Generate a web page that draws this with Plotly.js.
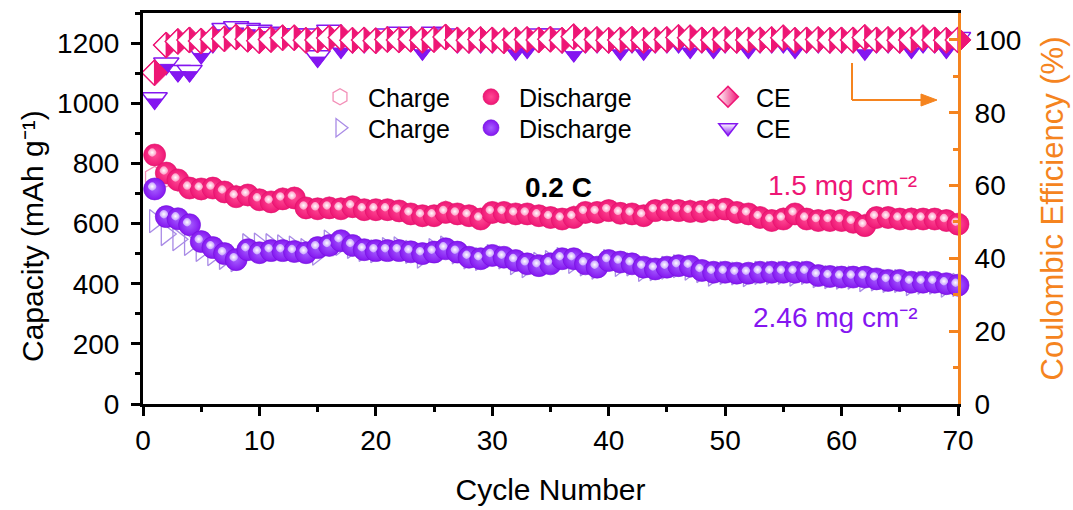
<!DOCTYPE html>
<html>
<head>
<meta charset="utf-8">
<script src="https://cdn.plot.ly/plotly-3.0.1.min.js"></script>
<style>html,body{margin:0;padding:0;background:#fff;}#chart{width:1073px;height:510px;}</style>
</head>
<body>
<div id="chart"></div>
<script>
// ---- data ----
const cycles = [1,2,3,4,5,6,7,8,9,10,11,12,13,14,15,16,17,18,19,20,21,22,23,24,25,26,27,28,29,30,31,32,33,34,35,36,37,38,39,40,41,42,43,44,45,46,47,48,49,50,51,52,53,54,55,56,57,58,59,60,61,62,63,64,65,66,67,68,69,70];

// 1.5 mg cm-2 electrode (pink)
const pinkCharge = [755,757,742,718,714,718,705,692,694,679,672,683,686,651,649,653,650,655,646,645,646,642,632,625,626,640,632,626,615,637,636,632,632,626,620,615,623,637,637,643,634,632,626,643,645,643,643,640,645,648,637,632,620,610,617,632,615,610,610,610,604,596,620,620,615,617,615,615,610,598];
const pinkDischarge = [828,768,745,718,715,718,705,689,695,679,672,682,685,652,649,652,649,656,646,646,646,642,632,626,626,637,632,626,615,637,637,632,632,626,620,615,620,637,637,643,634,632,626,643,645,643,640,640,645,648,637,632,620,610,615,632,615,610,610,610,604,593,620,620,615,615,615,615,610,598];
const pinkCE = [91,98.6,99.6,100,99.7,100.2,100.3,100.8,100.2,99.8,100.1,100.6,100.6,99.9,100,100.5,100.7,99.9,100,99.8,100.1,100,100.2,99.9,100.1,100.8,100,99.9,100.1,100,99.8,100,100.1,100,100.2,99.9,100.9,100,100.1,99.9,100,100.2,99.9,100,100.1,100.7,100.6,100,100,100.1,99.9,100,100,100.1,100.6,99.9,100,100.1,99.9,100,100,100.7,100,100.1,99.9,100,100.6,100,99.9,100];

// 2.46 mg cm-2 electrode (purple)
const purpleCharge = [608,565,548,532,512,498,486,478,528,530,528,524,520,512,500,540,532,522,512,508,515,518,506,490,512,520,504,487,482,492,487,468,458,466,472,482,472,464,453,475,462,464,446,448,453,458,450,442,430,436,434,428,436,436,436,430,436,425,422,420,420,412,414,409,409,398,403,403,393,396];
const purpleDischarge = [715,623,616,596,540,520,500,480,513,503,510,510,507,503,520,527,543,527,513,510,510,510,506,500,505,516,505,488,483,494,488,477,466,460,466,483,483,466,455,477,472,466,455,449,455,460,458,444,438,438,435,435,438,438,438,438,438,427,424,422,422,422,416,411,411,405,405,405,400,395];
const purpleCE = [84,93.5,91.5,91.5,96.5,99.5,103,103.5,103,102.5,102,101.5,101.5,101.5,95.5,102.5,98,99.5,99.5,99.5,101.5,102,100,97.5,102,101.5,99.5,99.5,99.5,99.5,99.5,97.5,98,101.5,101.5,99.5,97,99.5,99.5,99.5,97.5,99.5,97.5,99.5,99.5,99.5,98,99.5,98,99.5,99.5,98,99.5,99.5,99.5,98,99.5,99.5,99.5,99.5,99.5,97.5,99.5,99.5,99.5,98,99.5,99.5,98,100.5];

const xTickVals = [0,10,20,30,40,50,60,70];
const yLeftTickVals = [0,200,400,600,800,1000,1200];
const yRightTickVals = [0,20,40,60,80,100];

// ---- styling ----
const FONT = 'Liberation Sans, Arial, Helvetica, sans-serif';
const PINK = '#ee1675', PINK_LIGHT = '#f390b8';
const PURPLE = '#8416f0', LAVENDER = '#a98be6';
const ORANGE = '#f5841f';
const W = 1073, H = 510, ML = 143, MR = 115, MT = 13, MB = 106;
const PW = W - ML - MR, PH = H - MT - MB;
const XMAX = 70;
const px = x => (x - ML) / PW;
const py = y => (H - MB - y) / PH;

const DIA = 20;                       // CE diamond size
const halfShift = 0.424 * (DIA / 2) / (PW / XMAX); // centre offset of the half-diamond, in cycles
const TRI = 22;                       // purple CE triangle size
const TRI_K = 0.62;

const common = {cliponaxis: false, mode: 'markers', hoverinfo: 'x+y'};

const traces = [
  Object.assign({}, common, {
    name: 'Charge', x: cycles, y: pinkCharge, legend: 'legend',
    marker: {symbol: 'hexagon-open', size: 21, color: PINK_LIGHT, line: {color: PINK_LIGHT, width: 1.3}}
  }),
  Object.assign({}, common, {
    name: 'Discharge', x: cycles, y: pinkDischarge, legend: 'legend2',
    marker: {symbol: 'circle', size: 22, color: PINK, gradient: {type: 'radial', color: '#ff4b95'}, line: {color: '#e0106a', width: 0.6}}
  }),
  Object.assign({}, common, {
    name: 'Discharge highlight', x: cycles, y: pinkDischarge, showlegend: false,
    marker: {symbol: 'circle', size: 8, color: '#ff9cc6', angle: 135, standoff: 3.5, gradient: {type: 'radial', color: '#ffffff'}, line: {width: 0}}
  }),
  Object.assign({}, common, {
    name: 'Charge', x: cycles, y: purpleCharge, legend: 'legend4',
    marker: {symbol: 'triangle-right-open', size: 20, color: LAVENDER, line: {color: LAVENDER, width: 1.3}}
  }),
  Object.assign({}, common, {
    name: 'Discharge', x: cycles, y: purpleDischarge, legend: 'legend5',
    marker: {symbol: 'circle', size: 22, color: PURPLE, gradient: {type: 'radial', color: '#a660ff'}, line: {color: '#7410dc', width: 0.6}}
  }),
  Object.assign({}, common, {
    name: 'Discharge highlight', x: cycles, y: purpleDischarge, showlegend: false,
    marker: {symbol: 'circle', size: 8, color: '#c9a3ff', angle: 135, standoff: 3.5, gradient: {type: 'radial', color: '#ffffff'}, line: {width: 0}}
  }),
  // purple CE: white triangle with purple outline, lower part filled
  Object.assign({}, common, {
    name: 'CE', x: cycles, y: purpleCE, yaxis: 'y2', showlegend: false,
    marker: {symbol: 'triangle-down', size: TRI, color: '#ffffff', line: {color: PURPLE, width: 1.5}}
  }),
  Object.assign({}, common, {
    name: 'CE', x: cycles, y: purpleCE, yaxis: 'y2', showlegend: false,
    marker: {symbol: 'triangle-down', size: TRI * TRI_K, standoff: (TRI / 2) * (1 - TRI_K), color: PURPLE, line: {color: PURPLE, width: 1}}
  }),
  // pink CE: diamond, left half white
  Object.assign({}, common, {
    name: 'CE', x: cycles, y: pinkCE, yaxis: 'y2', showlegend: false,
    marker: {symbol: 'diamond', size: DIA, color: PINK, line: {color: PINK, width: 1}}
  }),
  Object.assign({}, common, {
    name: 'CE', x: cycles, y: pinkCE, xaxis: 'x3', yaxis: 'y2', showlegend: false,
    marker: {symbol: 'triangle-sw', angle: 45, size: DIA, color: '#ffffff', line: {color: PINK, width: 1.4}}
  }),
  // legend entries for the two CE series (half-filled symbols)
  Object.assign({}, common, {
    name: 'CE', x: [null], y: [null], yaxis: 'y2', legend: 'legend3', hoverinfo: 'skip',
    marker: {symbol: 'diamond', size: 16, color: '#ffffff', gradient: {type: 'horizontal', color: PINK}, line: {color: PINK, width: 1.5}}
  }),
  Object.assign({}, common, {
    name: 'CE', x: [null], y: [null], yaxis: 'y2', legend: 'legend6', hoverinfo: 'skip',
    marker: {symbol: 'triangle-down', size: 16, color: '#ffffff', gradient: {type: 'vertical', color: PURPLE}, line: {color: PURPLE, width: 1.5}}
  })
];

function leg(xp, yp) {
  return {x: px(xp), y: py(yp), xanchor: 'left', yanchor: 'top', bgcolor: 'rgba(0,0,0,0)',
          borderwidth: 0, itemwidth: 46, font: {family: FONT, size: 25, color: '#000'}, tracegroupgap: 0};
}
const col1 = 312, col2 = 463, col3 = 700, row1 = 74, row2 = 105;

const ah = {tipX: 937, baseX: 921, y: 100, half: 6};
const arrowPath = 'M ' + px(ah.tipX) + ',' + py(ah.y) + ' L ' + px(ah.baseX) + ',' + py(ah.y - ah.half) +
                  ' L ' + px(ah.baseX) + ',' + py(ah.y + ah.half) + ' Z';

const layout = {
  width: W, height: H,
  margin: {l: ML, r: MR, t: MT, b: MB, pad: 0},
  paper_bgcolor: '#fff', plot_bgcolor: '#fff',
  font: {family: FONT, color: '#000'},
  xaxis: {
    range: [0, XMAX], tickvals: xTickVals, ticks: 'outside', ticklen: 9, tickwidth: 3, tickcolor: '#000',
    showline: true, linewidth: 3, linecolor: '#000', mirror: true, showgrid: false, zeroline: false,
    tickfont: {family: FONT, size: 28, color: '#000'},
    minor: {dtick: 5, tick0: 0, ticks: 'outside', ticklen: 5, tickwidth: 3, tickcolor: '#000', showgrid: false},
    title: {text: 'Cycle Number', font: {family: FONT, size: 30, color: '#000'}, standoff: 25}
  },
  xaxis3: {overlaying: 'x', anchor: 'y2', range: [halfShift, XMAX + halfShift], visible: false},
  yaxis: {
    range: [0, 1300], tickvals: yLeftTickVals, ticks: 'outside', ticklen: 9, tickwidth: 3, tickcolor: '#000',
    showline: true, linewidth: 3, linecolor: '#000', showgrid: false, zeroline: false,
    tickfont: {family: FONT, size: 28, color: '#000'}, ticklabelstandoff: 6,
    minor: {dtick: 100, tick0: 0, ticks: 'outside', ticklen: 5, tickwidth: 3, tickcolor: '#000', showgrid: false}
  },
  yaxis2: {
    overlaying: 'y', side: 'right', range: [0, 107.4], tickvals: yRightTickVals,
    ticks: 'inside', ticklen: 9, tickwidth: 3, tickcolor: ORANGE,
    showline: true, linewidth: 3, linecolor: ORANGE, showgrid: false, zeroline: false,
    tickfont: {family: FONT, size: 28, color: '#000'}, ticklabelstandoff: 8,
    minor: {dtick: 10, tick0: 0, ticks: 'inside', ticklen: 5, tickwidth: 3, tickcolor: ORANGE, showgrid: false},
    title: {text: 'Coulombic Efficiency (%)', font: {family: FONT, size: 31, color: ORANGE}, standoff: 21}
  },
  legend: leg(col1, row1), legend2: leg(col2, row1), legend3: leg(col3, row1),
  legend4: leg(col1, row2), legend5: leg(col2, row2), legend6: leg(col3, row2),
  shapes: [
    {type: 'line', xref: 'paper', yref: 'paper', x0: px(852), x1: px(852), y0: py(63), y1: py(100), line: {color: ORANGE, width: 2}},
    {type: 'line', xref: 'paper', yref: 'paper', x0: px(852), x1: px(925), y0: py(100), y1: py(100), line: {color: ORANGE, width: 2}},
    {type: 'path', xref: 'paper', yref: 'paper', path: arrowPath, fillcolor: ORANGE, line: {color: ORANGE, width: 1}}
  ],
  annotations: [
    {xref: 'paper', yref: 'paper', x: px(33), y: py(236), xanchor: 'center', yanchor: 'middle',
     text: 'Capacity (mAh g\u207B\u00B9)', textangle: -90,
     showarrow: false, font: {family: FONT, size: 30, color: '#000'}},
    {xref: 'paper', yref: 'paper', x: px(558), y: py(187), xanchor: 'center', yanchor: 'middle', text: '0.2 C', showarrow: false,
     font: {family: FONT, size: 28, color: '#000', weight: 700}},
    {xref: 'paper', yref: 'paper', x: px(842), y: py(186), xanchor: 'center', yanchor: 'middle', text: '1.5 mg cm\u207B\u00B2', showarrow: false,
     font: {family: FONT, size: 28, color: PINK}},
    {xref: 'paper', yref: 'paper', x: px(835), y: py(317), xanchor: 'center', yanchor: 'middle', text: '2.46 mg cm\u207B\u00B2', showarrow: false,
     font: {family: FONT, size: 28, color: PURPLE}}
  ]
};

Plotly.newPlot('chart', traces, layout, {displayModeBar: false, staticPlot: true});
</script>
</body>
</html>
